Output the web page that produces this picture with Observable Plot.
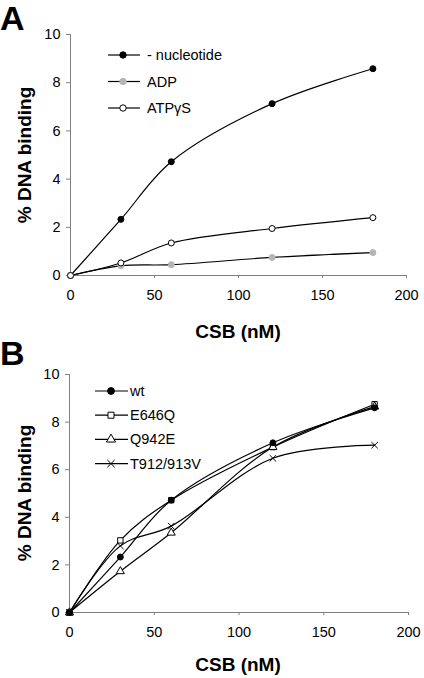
<!DOCTYPE html>
<html><head><meta charset="utf-8">
<script src="https://cdn.jsdelivr.net/npm/d3@7"></script>
<script src="https://cdn.jsdelivr.net/npm/@observablehq/plot@0.6"></script>
<style>
body{margin:0;background:#fff;}
#wrap{position:relative;width:424px;height:678px;font-family:Arial,"Liberation Sans",sans-serif;}
#wrap svg{position:absolute;left:0;}
</style></head><body>
<div id="wrap"></div>
<script>
const FONT = 'Arial, "Liberation Sans", sans-serif';
// shared x values
const conc = [0, 30, 60, 120, 180];
// Panel A series
const nucleotide = [0, 2.33, 4.72, 7.13, 8.58];
const adp = [0, 0.40, 0.45, 0.75, 0.95];
const atpgs = [0, 0.52, 1.35, 1.95, 2.40];
// Panel B series
const wt = [0, 2.33, 4.72, 7.13, 8.60];
const e646q = [0, 3.03, 4.72, 6.95, 8.75];
const q942e = [0, 1.73, 3.35, 6.95, 8.65];
const t912 = [0, 2.80, 3.63, 6.48, 7.03];
const xTicks = [0, 50, 100, 150, 200];
const yTicks = [0, 2, 4, 6, 8, 10];
const xLabel = "CSB (nM)";
const yLabel = "% DNA binding";

const seriesA = [
  {name: "- nucleotide", values: nucleotide, symbol: "circle", fill: "black", stroke: "black"},
  {name: "ADP", values: adp, symbol: "circle", fill: "#b5b5b5", stroke: "#b5b5b5"},
  {name: "ATPγS", values: atpgs, symbol: "circle", fill: "white", stroke: "black"}
];
const seriesB = [
  {name: "wt", values: wt, symbol: "circle", fill: "black", stroke: "black"},
  {name: "E646Q", values: e646q, symbol: "square", fill: "white", stroke: "black"},
  {name: "Q942E", values: q942e, symbol: "triangle", fill: "white", stroke: "black"},
  {name: "T912/913V", values: t912, symbol: "times", fill: "none", stroke: "black"}
];

function tidy(series) {
  return series.flatMap(s => s.values.map((v, i) => ({series: s.name, x: conc[i], y: v, s})));
}

function panel(series, opts) {
  const data = tidy(series);
  return Plot.plot({
    width: 424, height: opts.height,
    marginLeft: opts.ml, marginRight: opts.mr, marginTop: opts.mt, marginBottom: opts.mb,
    x: {domain: [0, 200], ticks: xTicks},
    y: {domain: [0, 10], ticks: yTicks},
    style: {fontFamily: FONT, fontSize: "14.5px", color: "black", background: "white"},
    marks: [
      Plot.axisY({ticks: yTicks, tickSize: 4, tickPadding: 6, label: null, fontSize: 14.5, stroke: "#808080", fill: "black"}),
      Plot.axisX({ticks: xTicks, tickSize: 3, tickPadding: 11, label: null, fontSize: 14.5, stroke: "#808080", fill: "black"}),
      Plot.ruleX([0], {y1: 0, y2: 10, stroke: "#808080"}),
      Plot.ruleY([0], {x1: 0, x2: 200, stroke: "#808080"}),
      Plot.line(data, {x: "x", y: "y", z: "series", curve: "catmull-rom", stroke: "black", strokeWidth: 1.2}),
      Plot.dot(data, {x: "x", y: "y", symbol: d => d.s.symbol, fill: d => d.s.fill, stroke: d => d.s.stroke,
        r: d => d.s.symbol === "circle" ? 3.6 : 3.8, strokeWidth: 1})
    ]
  });
}

const wrap = document.getElementById("wrap");
const a = panel(seriesA, {height: 340, ml: 70, mr: 18, mt: 34, mb: 65});
a.style.top = "0px";
wrap.appendChild(a);
const b = panel(seriesB, {height: 338, ml: 69, mr: 16, mt: 34, mb: 66});
b.style.top = "340px";
wrap.appendChild(b);

// overlay: panel letters, axis titles and legends
const ov = d3.select(wrap).append("svg").attr("width", 424).attr("height", 678)
  .style("top", "0px").style("font-family", FONT);
ov.append("text").text("A").attr("x", 0).attr("y", 30).attr("font-size", 34).attr("font-weight", "bold");
ov.append("text").text("B").attr("x", 0).attr("y", 365).attr("font-size", 34).attr("font-weight", "bold");

function titles(cx, cy, yx, yy) {
  ov.append("text").text(xLabel).attr("x", cx).attr("y", cy).attr("dy", "0.35em")
    .attr("text-anchor", "middle").attr("font-size", 19).attr("font-weight", "bold");
  ov.append("text").text(yLabel).attr("transform", `translate(${yx},${yy}) rotate(-90)`).attr("dy", "0.35em")
    .attr("text-anchor", "middle").attr("font-size", 19).attr("font-weight", "bold");
}
titles(238, 331, 24, 155);
titles(238, 664, 24, 493);

const symMap = {circle: d3.symbolCircle, square: d3.symbolSquare, triangle: d3.symbolTriangle, times: d3.symbolTimes};
function legend(series, x0, x1, xm, xt, y0, step, r) {
  series.forEach((s, i) => {
    const y = y0 + i * step;
    ov.append("line").attr("x1", x0).attr("x2", x1).attr("y1", y).attr("y2", y).attr("stroke", "black").attr("stroke-width", 1.2);
    ov.append("path").attr("d", d3.symbol(symMap[s.symbol], Math.PI * r * r)())
      .attr("transform", `translate(${xm},${y})`).attr("fill", s.fill).attr("stroke", s.stroke);
    ov.append("text").text(s.name).attr("x", xt).attr("y", y).attr("dy", "0.35em").attr("font-size", 14.5);
  });
}
legend(seriesA, 108, 140, 123, 147, 55, 26.5, 3.2);
legend(seriesB, 95, 128, 111, 130, 391, 24.2, 3.4);
</script>
</body></html>
